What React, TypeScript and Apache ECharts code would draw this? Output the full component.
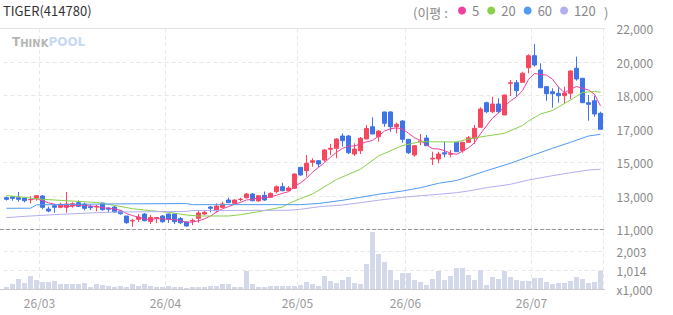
import React, { useEffect, useRef } from 'react';
import * as echarts from 'echarts';

// ---- categories (trading days, 2026) ----
const febDays = [20, 23, 24, 25, 26, 27];
const marDays = [3, 4, 5, 6, 9, 10, 11, 12, 13, 16, 17, 18, 19, 20, 23, 24, 25, 26, 27, 30, 31];
const aprDays = [1, 2, 3, 6, 7, 8, 9, 10, 13, 14, 15, 16, 17, 20, 21, 22, 23, 24, 27, 28, 29, 30];
const mayDays = [4, 6, 7, 8, 11, 12, 13, 14, 15, 18, 19, 20, 21, 22, 26, 27, 28, 29];
const junDays = [1, 2, 4, 5, 8, 9, 10, 11, 12, 15, 16, 17, 18, 19, 22, 23, 24, 25, 26, 29, 30];
const julDays = [1, 2, 3, 6, 7, 8, 9, 10, 13, 14, 15, 16];

// ---- price (OHLC) ----
const openPrices = [
  12740, 12778, 12740, 12723, 12630, 12723, 12833, 12121, 12302, 12214,
  12214, 12302, 12466, 12395, 12247, 12231, 12450, 12176, 12231, 12012,
  11738, 11465, 11558, 11847, 11443, 11620, 11738, 11847, 11847, 11601,
  11410, 11465, 11613, 11848, 12231, 12028, 12214, 12614, 12433, 12641,
  12740, 12942, 12559, 12871, 12762, 13068, 13342, 13123, 13254, 14403,
  14217, 14677, 14765, 14803, 15389, 15443, 16116, 16116, 15131, 15312,
  15952, 16625, 16078, 17430, 17430, 16625, 16937, 15936, 15077, 15804,
  16007, 14858, 14858, 15202, 15115, 15772, 15312, 15772, 15991, 16593,
  17939, 17446, 17868, 17266, 19001, 19034, 19055, 19854, 20511, 19729,
  18815, 18541, 18453, 18322, 18453, 19822, 19274, 17939, 18048, 17359,
];
const closePrices = [
  12652, 12707, 12652, 12575, 12641, 12849, 12214, 12012, 12214, 12379,
  12395, 12412, 12269, 12159, 12192, 12269, 12083, 12105, 11957, 11864,
  11371, 11503, 11683, 11481, 11662, 11650, 11426, 11558, 11426, 11371,
  11191, 11496, 11903, 11941, 12159, 12286, 12395, 12467, 12614, 12661,
  12942, 12575, 12849, 12614, 12980, 13342, 13123, 13270, 14037, 13982,
  14622, 14765, 14584, 15350, 15443, 15952, 15859, 15202, 15405, 15991,
  16527, 16226, 16390, 16812, 16625, 16757, 15936, 15202, 15586, 15843,
  15586, 14896, 15131, 15131, 15148, 15257, 15772, 16023, 16538, 17594,
  17446, 17868, 17446, 18360, 19034, 18596, 19548, 20511, 20002, 18760,
  18431, 18431, 18322, 18470, 19674, 19236, 17939, 17851, 17320, 16483,
];
const lowPrices = [
  12586, 12575, 12521, 12488, 12433, 12575, 12105, 11940, 11919, 12160,
  11920, 12193, 12231, 12050, 12067, 11995, 12028, 11940, 11919, 11809,
  11317, 11153, 11410, 11448, 11300, 11350, 11371, 11371, 11300, 11300,
  11164, 11240, 11371, 11793, 11941, 11941, 12160, 12467, 12433, 12543,
  12696, 12543, 12532, 12559, 12723, 12980, 13090, 13090, 13216, 13944,
  13889, 14436, 14403, 14710, 15077, 14896, 15531, 15131, 15022, 15131,
  15952, 16226, 15804, 16625, 16352, 16264, 15750, 15131, 14984, 15624,
  15586, 14529, 14622, 14951, 14951, 15257, 15202, 15772, 15679, 16593,
  17359, 17359, 17359, 17266, 18306, 18267, 19055, 19548, 19909, 18760,
  18048, 17665, 17939, 17868, 18141, 19143, 17939, 16954, 17173, 16483,
];
const highPrices = [
  12805, 12816, 13052, 12761, 12833, 12888, 12888, 12249, 12379, 12467,
  13052, 12488, 12598, 12467, 12357, 12341, 12450, 12214, 12286, 12050,
  11738, 11574, 11847, 11902, 11793, 11680, 11793, 11875, 11875, 11683,
  11438, 11601, 12029, 12029, 12286, 12432, 12521, 12740, 12641, 12740,
  12997, 12997, 12888, 13079, 13024, 13407, 13560, 13380, 14074, 14403,
  15077, 14896, 14800, 15405, 15679, 15990, 16264, 16171, 15717, 16062,
  16719, 17140, 16420, 17450, 17485, 16844, 16992, 15950, 15600, 16226,
  16171, 15257, 15257, 15804, 15350, 15800, 15800, 16116, 16718, 17687,
  17994, 18267, 18180, 18380, 19181, 19181, 19636, 20588, 21152, 20095,
  18850, 18727, 18815, 18815, 19700, 20457, 19300, 18360, 18322, 17446,
];

// ---- volume (x1,000) ----
const volumes = [
  140, 291, 555, 344, 714, 502, 397, 397, 450, 291,
  291, 291, 291, 344, 132, 291, 238, 185, 132, 185,
  132, 291, 185, 291, 185, 132, 132, 185, 132, 132,
  80, 132, 132, 132, 185, 185, 291, 291, 132, 132,
  979, 291, 132, 132, 185, 185, 185, 185, 185, 238,
  397, 291, 185, 714, 450, 344, 502, 661, 344, 291,
  1349, 3040, 1878, 1455, 1032, 502, 873, 873, 502, 397,
  238, 555, 979, 502, 714, 1137, 1137, 767, 502, 1032,
  238, 661, 555, 979, 661, 502, 450, 450, 608, 608,
  397, 291, 344, 344, 450, 661, 555, 344, 397, 979,
];

// ---- moving averages: [candle index, value] ----
const ma20Points = [
  [0, 12859], [6, 12653], [15, 12478], [18, 12324], [21, 12138], [24, 12029],
  [27, 11941], [30, 11794], [32, 11739], [37, 11739], [39, 11810], [42, 11974],
  [46, 12231], [47, 12412], [49, 12697], [51, 12943], [55, 13736], [59, 14300],
  [62, 15023], [66, 15597], [69, 15805], [75, 15789], [77, 15953], [80, 16117],
  [83, 16264], [86, 16692], [87, 16938], [89, 17321], [91, 17513], [92, 17704],
  [94, 18088], [96, 18498], [98, 18553], [99, 18509],
];
const ma60Points = [
  [0, 12160], [4, 12165], [5, 12350], [18, 12400], [30, 12420], [31, 12360],
  [49, 12360], [52, 12423], [56, 12598], [59, 12762], [62, 12926], [66, 13107],
  [69, 13288], [72, 13528], [75, 13682], [77, 13890], [80, 14218], [84, 14623],
  [87, 14985], [91, 15444], [94, 15773], [97, 16117], [99, 16210],
];
const ma120Points = [
  [0, 11657], [1, 11668], [2, 11701], [5, 11756], [9, 11832], [15, 11919],
  [18, 11957], [30, 11990], [31, 12040], [47, 12051], [49, 12105], [52, 12242],
  [56, 12341], [59, 12467], [62, 12604], [66, 12762], [69, 12850], [72, 12926],
  [75, 13014], [77, 13107], [80, 13288], [84, 13474], [87, 13709], [91, 13945],
  [94, 14109], [97, 14256], [99, 14295],
];

// ---- axis labels ----
const volumeLabelValues = [0, 1014, 2003];
const legendNames = ['5', '20', '60', '120'];

const UP = '#f6475e';
const DOWN = '#3e74e6';
const MA_COLORS = ['#ee409c', '#8bd04b', '#519bf1', '#b3aef0'];
const FONT = "'Noto Sans CJK KR', 'Noto Sans', sans-serif";

function pad(n: number) {
  return n < 10 ? '0' + n : String(n);
}

const dates: string[] = [];
[
  [2, febDays],
  [3, marDays],
  [4, aprDays],
  [5, mayDays],
  [6, junDays],
  [7, julDays],
].forEach(([m, days]) => {
  (days as number[]).forEach((d) => dates.push(`2026-${pad(m as number)}-${pad(d)}`));
});

const monthStart = new Set<number>();
dates.forEach((d, i) => {
  if (i > 0 && d.slice(5, 7) !== dates[i - 1].slice(5, 7)) monthStart.add(i);
});

const candleData = openPrices.map((o, i) => [o, closePrices[i], lowPrices[i], highPrices[i]]);

const ma5 = closePrices.map((_, i) => {
  if (i < 4) return null;
  let s = 0;
  for (let k = i - 4; k <= i; k++) s += closePrices[k];
  return Math.round(s / 5);
});

const gridLine = { color: '#e8e8e8', type: [4, 3] as any, width: 1 };

export default function App() {
  const ref = useRef<HTMLDivElement>(null);
  useEffect(() => {
    const chart = echarts.init(ref.current!, undefined, { renderer: 'svg' });
    const splitInterval = (index: number) => monthStart.has(index);
    const option: any = {
      animation: false,
      textStyle: { fontFamily: FONT },
      title: {
        text: 'TIGER(414780)',
        left: 3,
        top: 4,
        padding: 0,
        textStyle: { fontSize: 13, fontWeight: 'normal', color: '#333', fontFamily: FONT },
      },
      legend: {
        data: legendNames.map((n) => ({ name: n, icon: 'circle' })),
        left: 458,
        top: 4,
        padding: 0,
        itemGap: 8,
        itemWidth: 8,
        itemHeight: 8,
        selectedMode: false,
        textStyle: { fontSize: 13, color: '#888', padding: [0, 0, 0, 1], fontFamily: FONT },
      },
      graphic: [
        {
          type: 'line',
          shape: { x1: 0, y1: 28.5, x2: 605, y2: 28.5 },
          style: { stroke: '#e2e2e2', lineWidth: 1 },
          z: 10,
        },
        {
          type: 'line',
          shape: { x1: 0, y1: 229.5, x2: 605, y2: 229.5 },
          style: { stroke: '#9a9a9a', lineWidth: 1, lineDash: [4, 2] },
          z: 10,
        },
        {
          type: 'line',
          shape: { x1: 0, y1: 289.5, x2: 605, y2: 289.5 },
          style: { stroke: '#cccccc', lineWidth: 1 },
          z: 10,
        },
        {
          type: 'text',
          x: 413,
          y: 12,
          style: { text: '(이평 :', fontSize: 13, fontFamily: FONT, fill: '#888', align: 'left', verticalAlign: 'middle' },
        },
        {
          type: 'text',
          x: 604,
          y: 12,
          z: 20,
          style: { text: ')', fontSize: 13, fontFamily: FONT, fill: '#888', align: 'left', verticalAlign: 'middle' },
        },
        {
          type: 'text',
          x: 12,
          y: 48,
          style: {
            text: '{a|T}{b|HINK}{c|POOL}',
            verticalAlign: 'bottom',
            rich: {
              a: { fontSize: 12, fontWeight: 'bold', fill: '#b4b4b4', fontFamily: 'DejaVu Sans', verticalAlign: 'bottom' },
              b: { fontSize: 10, fontWeight: 'bold', fill: '#b4b4b4', fontFamily: 'DejaVu Sans', verticalAlign: 'bottom' },
              c: { fontSize: 12, fontWeight: 'bold', fill: '#c8d8f4', fontFamily: 'DejaVu Sans', verticalAlign: 'bottom' },
            },
          },
        },
      ],
      grid: [
        { left: 3.5, width: 600, top: 28.5, height: 201 },
        { left: 3.5, width: 600, top: 232, height: 57.5 },
      ],
      xAxis: [
        {
          type: 'category',
          gridIndex: 0,
          data: dates,
          boundaryGap: true,
          axisLine: { show: false },
          axisTick: { show: false },
          axisLabel: { show: false },
          splitLine: { show: true, interval: splitInterval, lineStyle: gridLine },
        },
        {
          type: 'category',
          gridIndex: 1,
          data: dates,
          boundaryGap: true,
          axisLine: { show: false },
          axisTick: { show: false },
          axisLabel: {
            interval: splitInterval,
            formatter: (v: string) => v.slice(2, 4) + '/' + v.slice(5, 7),
            color: '#999',
            fontSize: 12,
            margin: 7,
            padding: [0, 6, 0, 0],
          },
          splitLine: { show: true, interval: splitInterval, lineStyle: gridLine },
        },
      ],
      yAxis: [
        {
          type: 'value',
          gridIndex: 0,
          position: 'right',
          min: 11000,
          max: 22000,
          interval: 11000 / 6,
          axisLine: { show: false },
          axisTick: { show: false },
          axisLabel: {
            color: '#8a8a8a',
            fontSize: 12,
            margin: 13,
            align: 'left',
            formatter: (v: number) => (Math.round(v / 1000 + 1e-6) * 1000).toLocaleString('en-US'),
          },
          splitLine: { show: true, lineStyle: gridLine },
        },
        {
          type: 'value',
          gridIndex: 1,
          position: 'right',
          min: 0,
          max: 3040,
          axisLine: { show: false },
          axisTick: { show: false, customValues: volumeLabelValues.slice(1) },
          axisLabel: {
            customValues: volumeLabelValues,
            color: '#8a8a8a',
            fontSize: 12,
            margin: 13,
            align: 'left',
            formatter: (v: number) => (v === 0 ? 'x1,000' : v.toLocaleString('en-US')),
          },
          splitLine: { show: true, lineStyle: gridLine },
        },
      ],
      series: [
        {
          type: 'bar',
          name: 'volume',
          xAxisIndex: 1,
          yAxisIndex: 1,
          data: volumes,
          barWidth: 5,
          itemStyle: { color: '#d3d9e8' },
        },
        {
          type: 'candlestick',
          name: 'price',
          xAxisIndex: 0,
          yAxisIndex: 0,
          data: candleData,
          barWidth: 4,
          itemStyle: {
            color: UP,
            color0: DOWN,
            borderColor: UP,
            borderColor0: DOWN,
            borderWidth: 1,
          },
        },
        {
          type: 'line',
          name: '5',
          data: ma5,
          color: MA_COLORS[0],
          showSymbol: false,
          lineStyle: { width: 1, color: MA_COLORS[0] },
          z: 3,
        },
        {
          type: 'line',
          name: '20',
          data: ma20Points,
          color: MA_COLORS[1],
          showSymbol: false,
          lineStyle: { width: 1, color: MA_COLORS[1] },
          z: 3,
        },
        {
          type: 'line',
          name: '60',
          data: ma60Points,
          color: MA_COLORS[2],
          showSymbol: false,
          lineStyle: { width: 1, color: MA_COLORS[2] },
          z: 3,
        },
        {
          type: 'line',
          name: '120',
          data: ma120Points,
          color: MA_COLORS[3],
          showSymbol: false,
          lineStyle: { width: 1, color: MA_COLORS[3] },
          z: 3,
        },
      ],
    };
    chart.setOption(option);
    return () => chart.dispose();
  }, []);
  return (
    <div
      ref={ref}
      style={{ position: 'absolute', left: 0, top: 0, width: 673, height: 315 }}
    />
  );
}
